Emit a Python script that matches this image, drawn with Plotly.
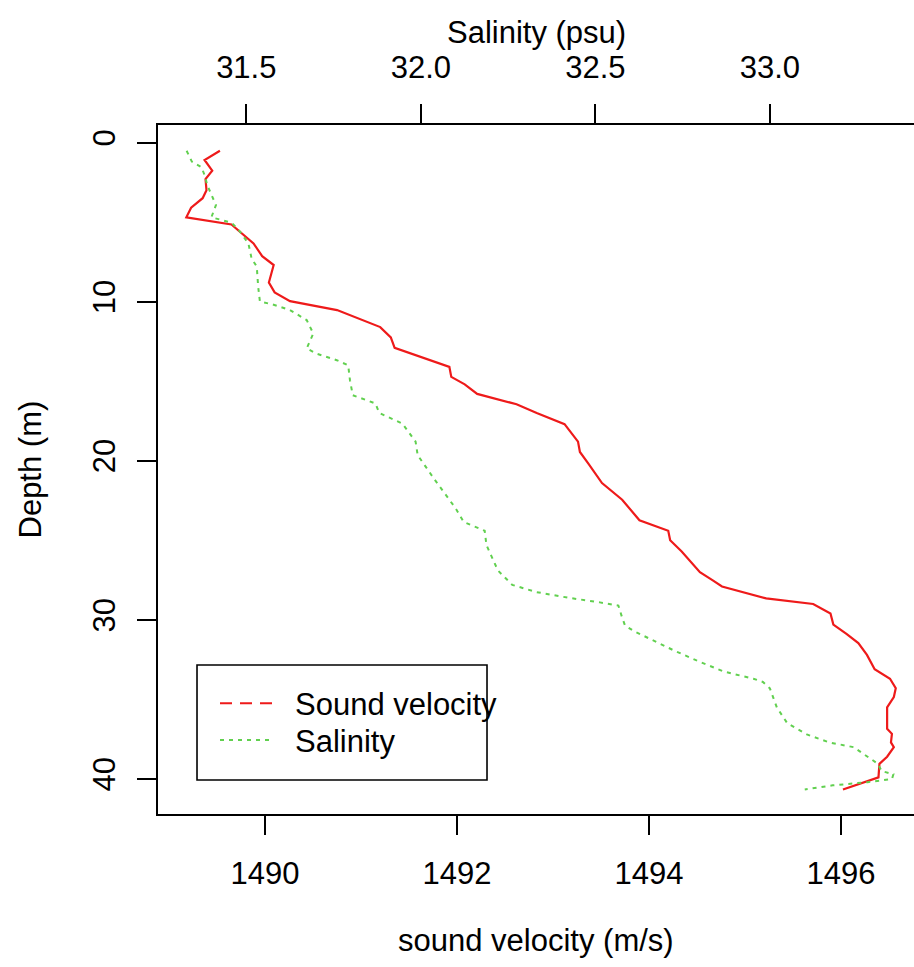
import plotly.graph_objects as go

# Sound velocity profile (m/s) vs depth (m)
depth_sv = [0.52, 1.1, 1.77, 2.3, 3.0, 3.5, 4.1, 4.7, 5.15, 6.34, 7.14, 7.7, 8.8, 9.42, 9.97,
            10.53, 11.6, 12.25, 12.9, 14.1, 14.73, 15.2, 15.8, 16.45, 17.0, 17.7, 18.8, 19.45,
            20.2, 21.4, 22.45, 23.74, 24.4, 25.0, 25.7, 27.0, 27.5, 27.9, 28.65, 29.0, 29.6,
            30.3, 30.9, 31.46, 32.2, 33.1, 33.7, 34.3, 34.85, 35.5, 36.85, 37.16, 37.7, 38.0,
            38.6, 39.05, 39.9, 40.66]
sound_velocity = [1489.53, 1489.37, 1489.45, 1489.38, 1489.39, 1489.35, 1489.23, 1489.18, 1489.65,
                  1489.88, 1489.97, 1490.09, 1490.04, 1490.10, 1490.26, 1490.75, 1491.20, 1491.31,
                  1491.35, 1491.92, 1491.94, 1492.08, 1492.21, 1492.62, 1492.83, 1493.12, 1493.26,
                  1493.28, 1493.37, 1493.51, 1493.72, 1493.90, 1494.20, 1494.22, 1494.34, 1494.53,
                  1494.66, 1494.76, 1495.22, 1495.71, 1495.89, 1495.92, 1496.06, 1496.18, 1496.27,
                  1496.35, 1496.51, 1496.57, 1496.55, 1496.48, 1496.48, 1496.53, 1496.52, 1496.55,
                  1496.48, 1496.40, 1496.39, 1496.02]

# Salinity profile (psu) vs depth (m)
depth_sal = [0.52, 1.2, 1.56, 2.15, 2.67, 3.3, 3.93, 4.7, 4.87, 5.04, 5.6, 6.34, 7.28, 7.8, 9.07,
             10.0, 10.16, 10.53, 11.16, 12.0, 12.94, 13.26, 13.68, 14.0, 14.94, 15.88, 16.4, 17.0,
             17.66, 18.8, 19.65, 21.2, 23.0, 23.85, 24.4, 25.3, 26.9, 27.8, 28.25, 28.6, 28.9,
             29.1, 29.8, 30.35, 30.7, 31.3, 31.9, 32.55, 33.24, 33.7, 33.9, 34.3, 35.5, 36.5,
             37.2, 37.7, 38.0, 38.6, 39.05, 39.5, 39.7, 40.0, 40.2, 40.4, 40.66]
salinity = [31.329, 31.344, 31.372, 31.382, 31.388, 31.400, 31.413, 31.400, 31.430, 31.458,
            31.482, 31.506, 31.515, 31.530, 31.534, 31.539, 31.573, 31.625, 31.673, 31.692,
            31.673, 31.700, 31.759, 31.792, 31.797, 31.805, 31.870, 31.881, 31.947, 31.985,
            31.991, 32.040, 32.100, 32.123, 32.183, 32.188, 32.221, 32.262, 32.330, 32.420,
            32.513, 32.566, 32.576, 32.585, 32.610, 32.666, 32.723, 32.790, 32.867, 32.953,
            32.980, 33.000, 33.020, 33.050, 33.106, 33.170, 33.240, 33.280, 33.310, 33.320,
            33.354, 33.350, 33.280, 33.180, 33.100]

sv_ticks = [1490, 1492, 1494, 1496]
sal_ticks = [31.5, 32.0, 32.5, 33.0]
sal_ticktext = ["31.5", "32.0", "32.5", "33.0"]
depth_ticks = [0, 10, 20, 30, 40]

RED = "#EE1A1A"
GREEN = "#61D04F"
FONT = "Liberation Sans, Arial, Helvetica, sans-serif"
FS = 31

# legend sample dash patterns: 3 dashes / 6 dots followed by a long gap
RED_KEY_DASH = "12px,8px,12px,8px,12px,60px"
GREEN_KEY_DASH = "4px,5px,4px,5px,4px,5px,4px,5px,4px,5px,4px,60px"

fig = go.Figure()
fig.add_trace(go.Scatter(x=sound_velocity, y=depth_sv, mode="lines", xaxis="x", yaxis="y",
                         line=dict(color=RED, width=2.2), showlegend=False))
fig.add_trace(go.Scatter(x=salinity, y=depth_sal, mode="lines", xaxis="x2", yaxis="y",
                         line=dict(color=GREEN, width=2, dash="4px,5px"), showlegend=False))
# legend entries (styles as drawn in the legend)
fig.add_trace(go.Scatter(x=[None], y=[None], mode="lines", name="Sound velocity", legend="legend",
                         line=dict(color=RED, width=2, dash=RED_KEY_DASH)))
fig.add_trace(go.Scatter(x=[None], y=[None], mode="lines", name="Salinity", legend="legend2",
                         line=dict(color=GREEN, width=2, dash=GREEN_KEY_DASH)))

axis_common = dict(showgrid=False, zeroline=False, showline=True, linecolor="black", linewidth=2,
                   ticks="outside", ticklen=19, tickwidth=1.6, tickcolor="black",
                   tickfont=dict(family=FONT, size=FS, color="black"), automargin=False)

legend_common = dict(xanchor="left", yanchor="top", bgcolor="rgba(0,0,0,0)", borderwidth=0,
                     font=dict(family=FONT, size=FS, color="black"), itemwidth=70)

fig.update_layout(
    width=914, height=967,
    margin=dict(l=158, r=0, t=125, b=153),
    paper_bgcolor="white", plot_bgcolor="white",
    font=dict(family=FONT, size=FS, color="black"),
    xaxis=dict(range=[1488.885, 1496.760], tickvals=sv_ticks, ticklabelstandoff=12, **axis_common),
    xaxis2=dict(range=[31.247, 33.413], tickvals=sal_ticks, ticktext=sal_ticktext, overlaying="x",
                side="top", anchor="y", ticklabelstandoff=14, **axis_common),
    yaxis=dict(range=[42.2, -1.1], tickvals=depth_ticks, tickangle=-90, ticklabelstandoff=10,
               **axis_common),
    showlegend=True,
    legend=dict(x=0.0754, y=0.1996, **legend_common),
    legend2=dict(x=0.0754, y=0.1459, **legend_common),
    shapes=[dict(type="rect", xref="paper", yref="paper", x0=0.0516, x1=0.4352, y0=0.0493,
                 y1=0.2163, line=dict(color="black", width=1.6), fillcolor="rgba(0,0,0,0)")],
    annotations=[
        dict(text="Salinity (psu)", xref="paper", yref="paper", x=0.5, y=1, yshift=93,
             showarrow=False, xanchor="center", yanchor="middle", font=dict(size=FS)),
        dict(text="sound velocity (m/s)", xref="paper", yref="paper", x=0.5, y=0, yshift=-126,
             showarrow=False, xanchor="center", yanchor="middle", font=dict(size=FS)),
        dict(text="Depth (m)", xref="paper", yref="paper", x=0, y=0.5, xshift=-128, textangle=-90,
             showarrow=False, xanchor="center", yanchor="middle", font=dict(size=FS)),
    ],
)

fig.write_html("out.html", config={"displayModeBar": False},
               post_script="document.body.style.margin='0';")
